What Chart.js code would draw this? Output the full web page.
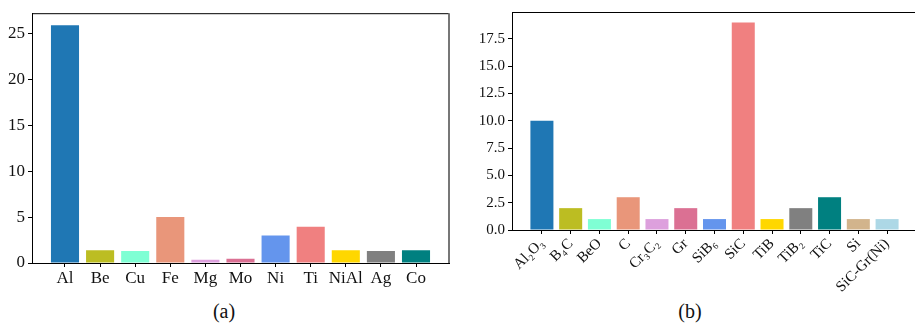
<!DOCTYPE html>
<html>
<head>
<meta charset="utf-8">
<script src="https://cdn.jsdelivr.net/npm/chart.js@4.4.1/dist/chart.umd.min.js"></script>
<style>
  html, body { margin: 0; padding: 0; background: #fff; overflow: hidden; width: 915px; height: 330px; }
  .box { position: absolute; top: 0; height: 300px; }
  .cap { position: absolute; font-family: "Liberation Serif", serif; font-size: 20px; color: #111; transform: translateX(-50%); }
</style>
</head>
<body>
<div class="box" style="left:0;width:460px"><canvas id="chartA"></canvas></div>
<div class="box" style="left:460px;width:460px"><canvas id="chartB"></canvas></div>
<div class="cap" style="left:224px;top:300px">(a)</div>
<div class="cap" style="left:690px;top:300px">(b)</div>
<script>
// (a) metal matrices
const metals = ['Al', 'Be', 'Cu', 'Fe', 'Mg', 'Mo', 'Ni', 'Ti', 'NiAl', 'Ag', 'Co'];
const metalCounts = [25.9, 1.4, 1.3, 5.0, 0.35, 0.45, 3.0, 3.95, 1.4, 1.3, 1.4];
const metalColors = ['#1f77b4', '#bcbd22', '#7fffd4', '#e9967a', '#dda0dd', '#db7093',
                     '#6495ed', '#f08080', '#ffd700', '#808080', '#008080'];

// (b) reinforcements
const reinf = ['Al₂O₃', 'B₄C', 'BeO', 'C', 'Cr₃C₂', 'Gr', 'SiB₆', 'SiC', 'TiB', 'TiB₂', 'TiC', 'Si', 'SiC-Gr(Ni)'];
const reinfCounts = [10, 2, 1, 3, 1, 2, 1, 19, 1, 2, 3, 1, 1];
const reinfColors = ['#1f77b4', '#bcbd22', '#7fffd4', '#e9967a', '#dda0dd', '#db7093', '#6495ed',
                     '#f08080', '#ffd700', '#808080', '#008080', '#d2b48c', '#add8e6'];

const serif = '"Liberation Serif", "DejaVu Serif", serif';

// draws top / right spines like matplotlib
const frame = {
  id: 'frame',
  afterDraw(chart, args, opts) {
    const a = chart.chartArea, c = chart.ctx;
    c.save();
    c.strokeStyle = '#000';
    c.lineWidth = 1;
    c.beginPath();
    c.moveTo(a.left, a.top + 0.5);
    c.lineTo(a.right, a.top + 0.5);
    c.stroke();
    if (opts.right) {
      c.strokeStyle = opts.rightColor || '#000';
      c.lineWidth = opts.rightWidth || 1;
      c.beginPath();
      c.moveTo(a.right, a.top);
      c.lineTo(a.right, a.bottom);
      c.stroke();
    }
    c.restore();
  }
};

function makeChart(id, labels, values, colors, cfg) {
  const n = labels.length;
  const pts = values.map((v, i) => ({ x: i, y: v }));
  return new Chart(document.getElementById(id), {
    type: 'bar',
    data: {
      datasets: [{
        data: pts,
        backgroundColor: colors,
        barPercentage: 0.8,
        categoryPercentage: 1.0
      }]
    },
    options: {
      responsive: true,
      maintainAspectRatio: false,
      animation: false,
      layout: { padding: cfg.padding },
      plugins: {
        legend: { display: false },
        tooltip: { enabled: false },
        frame: cfg.frame
      },
      scales: {
        x: {
          type: 'linear',
          offset: false,
          min: -0.4 - 0.05 * (n - 1 + 0.8),
          max: n - 1 + 0.4 + 0.05 * (n - 1 + 0.8),
          afterBuildTicks: axis => { axis.ticks = labels.map((l, i) => ({ value: i })); },
          afterFit: s => { s.height = cfg.xHeight; },
          grid: { drawOnChartArea: false, offset: false, color: '#000', tickLength: 4 },
          border: { color: '#000', width: 1 },
          ticks: {
            callback: v => labels[v],
            color: '#111',
            font: { family: serif, size: cfg.xFont },
            maxRotation: cfg.rot, minRotation: cfg.rot,
            autoSkip: false,
            padding: 1
          }
        },
        y: {
          min: 0,
          max: cfg.ymax,
          afterFit: s => { s.width = cfg.yWidth; },
          grid: { drawOnChartArea: false, color: '#000', tickLength: 4 },
          border: { color: '#000', width: 1 },
          ticks: {
            stepSize: cfg.step,
            includeBounds: false,
            callback: cfg.fmt,
            color: '#111',
            font: { family: serif, size: cfg.yFont },
            padding: 3
          }
        }
      }
    },
    plugins: [frame]
  });
}

makeChart('chartA', metals, metalCounts, metalColors, {
  padding: { top: 6, right: 11, left: 0, bottom: 0 },
  xHeight: 37, yWidth: 32, ymax: 27.2, step: 5,
  fmt: v => v.toFixed(0), xFont: 17, yFont: 17, rot: 0,
  frame: { right: true, rightColor: '#777', rightWidth: 2 }
});

makeChart('chartB', reinf, reinfCounts, reinfColors, {
  padding: { top: 9, right: 3, left: 0, bottom: 0 },
  xHeight: 70, yWidth: 52, ymax: 19.95, step: 2.5,
  fmt: v => v.toFixed(1), xFont: 15, yFont: 15, rot: 45,
  frame: { right: false }
});
</script>
</body>
</html>
